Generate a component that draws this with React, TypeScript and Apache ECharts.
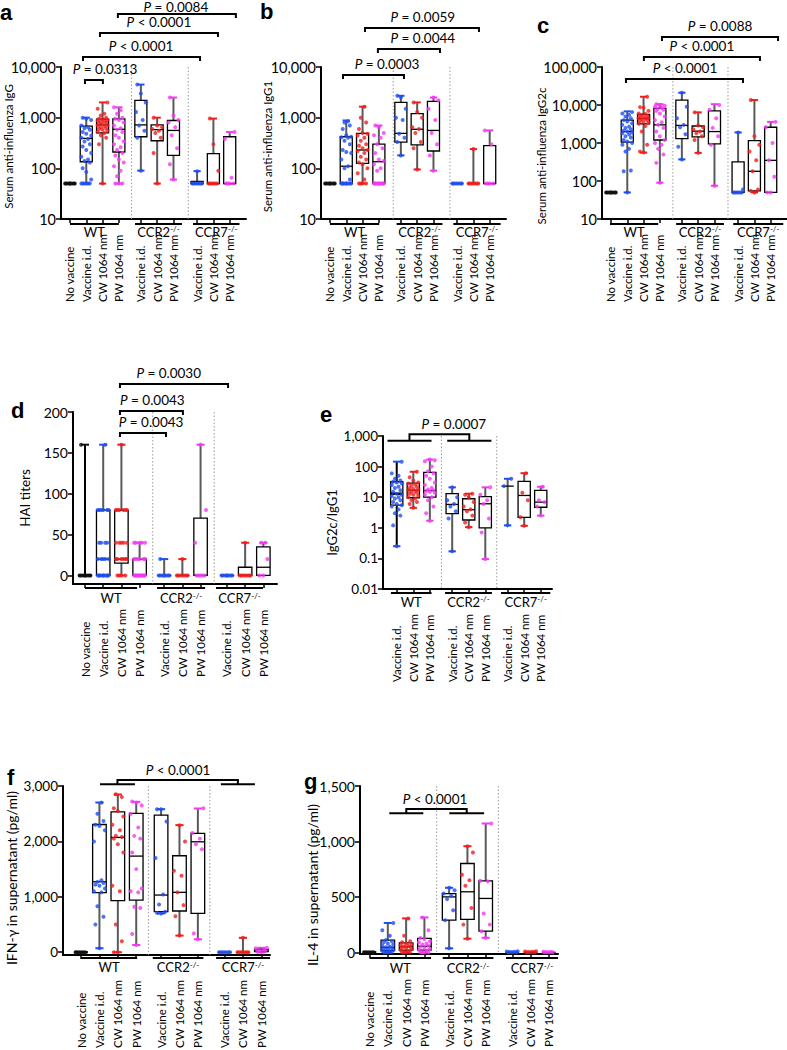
import React, { useEffect, useRef } from "react";
import * as echarts from "echarts";

const FONT = "Lato, 'Liberation Sans', Arial, sans-serif";
const BLACK = "#111111";
const BLUE = "#1f4ff0";
const RED = "#f21d1d";
const MAGENTA = "#f23af2";
const WHISKER = "#5a5a5a";

// ---------- categories ----------
const CATEGORIES_ALL = ["No vaccine", "Vaccine i.d.", "CW 1064 nm", "PW 1064 nm", "Vaccine i.d.", "CW 1064 nm", "PW 1064 nm", "Vaccine i.d.", "CW 1064 nm", "PW 1064 nm"];
const CATEGORIES_RATIO = ["Vaccine i.d.", "CW 1064 nm", "PW 1064 nm", "Vaccine i.d.", "CW 1064 nm", "PW 1064 nm", "Vaccine i.d.", "CW 1064 nm", "PW 1064 nm"];
const GROUP_NAMES = ["WT", "CCR2", "CCR7"];
const COLORS_ALL = [BLACK, BLUE, RED, MAGENTA, BLUE, RED, MAGENTA, BLUE, RED, MAGENTA];
const COLORS_RATIO = [BLUE, RED, MAGENTA, BLUE, RED, MAGENTA, BLUE, RED, MAGENTA];

// ---------- a: IgG (box = min, q1, median, q3, max) ----------
const IGG_BOX = [
  [50, 50, 50, 50, 50], [50, 135, 390, 680, 1000], [50, 500, 720, 940, 2000], [50, 210, 590, 950, 1600],
  [90, 420, 720, 2200, 4500], [50, 350, 580, 720, 1000], [60, 180, 560, 880, 2500],
  [50, 50, 50, 55, 88], [50, 50, 50, 195, 960], [50, 50, 50, 420, 520],
];
const IGG_DOTS = [
  [50, 50, 50, 50, 50, 50, 50, 50],
  [50, 50, 50, 50, 50, 50, 60, 85, 100, 130, 140, 150, 170, 200, 230, 270, 300, 340, 380, 400, 440, 480, 520, 580, 620, 650, 700, 900, 950, 1000],
  [50, 300, 400, 450, 500, 520, 550, 580, 600, 620, 650, 680, 700, 720, 750, 780, 800, 820, 850, 880, 900, 920, 950, 1000, 1100, 1200, 1500, 2000],
  [50, 50, 50, 70, 90, 110, 130, 150, 180, 200, 230, 260, 300, 340, 400, 450, 520, 580, 620, 700, 800, 900, 950, 1000, 1200, 1400, 1600],
  [90, 400, 550, 700, 900, 1300, 2000, 3000, 4500],
  [50, 200, 400, 500, 550, 600, 650, 700, 1000],
  [60, 120, 250, 450, 650, 800, 900, 1100, 2500],
  [50, 50, 50, 50, 50, 50, 50, 88],
  [50, 50, 50, 50, 50, 50, 90, 300, 960],
  [50, 50, 50, 50, 65, 380, 520],
];
const IGG_P = ["P = 0.0313", "P < 0.0001", "P < 0.0001", "P = 0.0084"];

// ---------- b: IgG1 ----------
const IGG1_BOX = [
  [50, 50, 50, 50, 50], [50, 50, 110, 420, 880], [50, 125, 230, 490, 1650], [50, 50, 135, 300, 700],
  [180, 330, 490, 2000, 2700], [95, 290, 590, 1200, 2000], [90, 220, 560, 2100, 2500],
  [50, 50, 50, 50, 50], [50, 50, 50, 50, 240], [50, 50, 50, 280, 560],
];
const IGG1_DOTS = [
  [50, 50, 50, 50, 50, 50, 50, 50],
  [50, 50, 50, 50, 50, 50, 50, 50, 50, 60, 100, 110, 150, 200, 210, 230, 300, 350, 400, 410, 420, 450, 600, 700, 800, 850],
  [50, 50, 50, 50, 60, 80, 100, 120, 130, 150, 170, 200, 220, 230, 250, 280, 300, 350, 400, 450, 480, 500, 600, 800, 1000, 1650],
  [50, 50, 50, 50, 50, 50, 50, 50, 50, 50, 90, 100, 120, 140, 150, 200, 250, 300, 400, 450, 500, 650, 700],
  [180, 330, 400, 480, 900, 1000, 1500, 2500, 2700],
  [95, 250, 330, 500, 600, 650, 1000, 1300, 2000],
  [90, 180, 300, 500, 900, 1500, 2200, 2500],
  [50, 50, 50, 50, 50, 50, 50],
  [50, 50, 50, 50, 50, 50, 50, 240],
  [50, 50, 50, 50, 300, 560],
];
const IGG1_P = ["P = 0.0003", "P = 0.0044", "P = 0.0059"];

// ---------- c: IgG2c ----------
const IGG2C_BOX = [
  [50, 50, 50, 50, 50], [50, 1050, 2000, 4000, 6800], [560, 3200, 4400, 5700, 16500], [90, 1200, 3000, 8200, 10500],
  [370, 1300, 2900, 13500, 21000], [550, 1450, 2050, 2800, 6400], [75, 950, 2000, 7000, 10500],
  [50, 50, 50, 320, 1900], [50, 55, 180, 1150, 13500], [50, 50, 350, 2600, 3600],
];
const IGG2C_DOTS = [
  [50, 50, 50, 50, 50, 50, 50, 50],
  [50, 180, 190, 600, 700, 900, 1000, 1100, 1200, 1400, 1500, 1700, 1800, 1900, 2000, 2100, 2300, 2500, 2700, 3000, 3300, 3700, 4000, 4500, 5000, 5500, 6000, 6500],
  [560, 600, 900, 2000, 2800, 3200, 3400, 3600, 3800, 4000, 4200, 4400, 4500, 4600, 4800, 5000, 5200, 5500, 5800, 6000, 7000, 8500, 8800, 16500],
  [90, 300, 500, 700, 900, 1000, 1200, 1500, 2000, 2500, 3000, 3500, 4000, 5000, 6000, 7000, 7500, 8000, 8500, 9000, 9500, 10000, 10500],
  [370, 800, 1700, 2600, 3000, 4500, 9000, 21000],
  [550, 1200, 1500, 1800, 2000, 2300, 2600, 2900, 6400],
  [75, 900, 1500, 2500, 4500, 7500, 10000],
  [50, 50, 50, 50, 50, 50, 60, 1900],
  [50, 55, 60, 180, 350, 600, 900, 1500, 13500],
  [50, 50, 130, 350, 1000, 2600, 3600],
];
const IGG2C_P = ["P < 0.0001", "P < 0.0001", "P = 0.0088"];

// ---------- d: HAI titers ----------
const HAI_BOX = [
  [0, 0, 0, 0, 160], [0, 0, 20, 80, 160], [0, 15, 20, 80, 160], [0, 0, 0, 20, 40],
  [0, 0, 0, 0, 20], [0, 0, 0, 0, 20], [0, 0, 0, 70, 160],
  [0, 0, 0, 0, 0], [0, 0, 0, 10, 40], [0, 0, 10, 35, 40],
];
const HAI_DOTS = [
  [0, 0, 0, 0, 0, 0, 0, 0, 160],
  [0, 0, 0, 0, 0, 0, 0, 0, 0, 0, 20, 20, 20, 20, 20, 40, 40, 40, 40, 80, 80, 80, 80, 80, 80, 160],
  [0, 0, 0, 0, 20, 20, 20, 20, 20, 20, 40, 40, 40, 40, 40, 80, 80, 80, 80, 80, 80, 160],
  [0, 0, 0, 0, 0, 0, 0, 0, 0, 0, 0, 0, 20, 20, 20, 20, 20, 20, 40, 40, 40, 40, 40],
  [0, 0, 0, 0, 0, 0, 0, 0, 20],
  [0, 0, 0, 0, 0, 0, 0, 20],
  [0, 0, 0, 0, 0, 40, 80, 160],
  [0, 0, 0, 0, 0, 0, 0, 0],
  [0, 0, 0, 0, 0, 0, 0, 40],
  [0, 0, 20, 40, 40],
];
const HAI_P = ["P = 0.0043", "P = 0.0043", "P = 0.0030"];

// ---------- e: IgG2c / IgG1 ----------
const RATIO_BOX = [
  [0.25, 5.5, 13, 32, 145], [4.5, 9.6, 17, 29, 68], [1.7, 10, 16.5, 65, 170],
  [0.17, 2.9, 5.8, 13, 21], [1.05, 1.8, 3.9, 8.9, 13], [0.095, 1.0, 6.1, 10.5, 21],
  [1.2, 23, 23, 23, 40], [1.16, 2.2, 11.4, 33, 61], [2.5, 4.7, 6.9, 16.6, 22],
];
const RATIO_DOTS = [
  [0.25, 1.2, 2.5, 3, 4, 5, 5.5, 6, 7, 8, 9, 10, 11, 12, 13, 15, 17, 20, 22, 25, 28, 30, 32, 35, 40, 50, 60, 145],
  [4.5, 6, 7, 8, 9, 10, 11, 12, 13, 14, 15, 16, 17, 18, 19, 20, 22, 24, 26, 28, 30, 35, 45, 68],
  [1.7, 3, 5, 8, 10, 12, 14, 15, 16, 17, 18, 20, 25, 30, 40, 50, 60, 70, 100, 150, 160, 170],
  [0.17, 2, 3.5, 5, 6, 8, 10, 21],
  [1.05, 1.5, 2.5, 3.5, 4, 5, 7, 10, 12, 13],
  [0.095, 0.7, 2, 6, 8, 12, 21],
  [1.2, 23, 40],
  [1.16, 2.2, 8, 14, 61],
  [2.5, 5, 6.9, 8, 22],
];
const RATIO_P = "P = 0.0007";

// ---------- f: IFN-gamma ----------
const IFNG_BOX = [
  [0, 0, 0, 0, 0], [72, 1074, 1272, 2305, 2702], [0, 930, 2072, 2533, 2847], [131, 942, 1735, 2505, 2714],
  [700, 732, 1032, 2474, 2582], [300, 744, 1081, 1741, 2294], [234, 703, 1993, 2144, 2594],
  [0, 0, 0, 0, 0], [0, 0, 0, 0, 260], [0, 10, 20, 50, 80],
];
const IFNG_DOTS = [
  [0, 0, 0, 0, 0, 0],
  [72, 500, 640, 830, 1080, 1100, 1150, 1200, 1220, 1250, 1270, 1300, 2000, 2200, 2280, 2300, 2370, 2500, 2700],
  [0, 0, 200, 500, 1100, 1200, 1800, 1950, 2050, 2080, 2100, 2200, 2300, 2450, 2550, 2600, 2800, 2850],
  [131, 330, 800, 820, 1080, 1100, 1150, 1500, 1800, 2050, 2100, 2250, 2500, 2650, 2700, 2720],
  [700, 710, 730, 860, 1040, 1700, 2360, 2580, 2580],
  [300, 650, 850, 1080, 1380, 1470, 2000, 2290],
  [234, 340, 1860, 1950, 2050, 2150, 2600],
  [0, 0, 0, 0, 0, 0, 0],
  [0, 0, 0, 0, 0, 0, 0, 260],
  [0, 10, 20, 30, 50, 70, 80],
];
const IFNG_P = "P < 0.0001";

// ---------- g: IL-4 ----------
const IL4_BOX = [
  [0, 0, 0, 0, 0], [0, 15, 45, 110, 265], [0, 20, 50, 86, 306], [0, 20, 55, 126, 315],
  [36, 290, 500, 530, 582], [123, 297, 546, 801, 957], [131, 192, 486, 645, 1162],
  [0, 0, 0, 0, 0], [0, 0, 0, 0, 0], [0, 0, 0, 0, 0],
];
const IL4_DOTS = [
  [0, 0, 0, 0, 0, 0],
  [0, 0, 0, 0, 10, 15, 20, 25, 30, 40, 45, 50, 60, 70, 80, 90, 100, 110, 150, 200, 265],
  [0, 0, 0, 0, 10, 20, 30, 40, 45, 50, 55, 60, 65, 70, 80, 90, 100, 150, 306],
  [0, 0, 0, 0, 10, 20, 30, 40, 50, 60, 70, 80, 90, 100, 120, 130, 200, 315],
  [36, 290, 380, 480, 510, 530, 560, 582],
  [123, 250, 400, 600, 650, 700, 900, 957],
  [131, 190, 250, 350, 640, 645, 1162],
  [0, 0, 0, 3, 5, 8, 10],
  [0, 0, 0, 3, 5, 8, 10],
  [0, 0, 0, 2, 4, 6],
];
const IL4_P = "P < 0.0001";

// ---------- layout (positions in axis units, offsets in px) ----------
const POS_ALL = [0, 1, 2, 3, 4.35, 5.35, 6.35, 7.8, 8.8, 9.8];
const POS_RATIO = [0, 1, 2, 3.35, 4.35, 5.35, 6.7, 7.7, 8.7];
const JITTER = [0, -0.22, 0.22, -0.11, 0.11, -0.3, 0.3];
const CAT_FONT = 11.5;

type Bracket = { x1: number; x2: number; dy: number; tx: number };
type Tree = { a: number[]; b: number[]; barDy: number; connDy: number; tx: number; text: string };
interface Panel {
  letter: string; letterPos: number[];
  grid: { left: number; top: number; width: number; height: number };
  xRange: number[]; log: boolean; yRange: number[]; yTicks?: number[];
  yName: string; nameGap: number; namePad: number; nameSize: number; yLabelSize: number;
  cats: string[]; pos: number[]; colors: string[]; box: number[][]; dots: number[][];
  seps: number[]; groups: number[][]; ulDy: number; glDy: number; labMargin: number;
  brackets: Bracket[]; pTexts: string[]; tree?: Tree;
}

const PANELS: Panel[] = [
  {
    letter: "a", letterPos: [0, 1], grid: { left: 61, top: 67, width: 185, height: 152 },
    xRange: [-0.55, 10.8], log: true, yRange: [10, 10000],
    yName: "Serum anti-influenza IgG", nameGap: 47, namePad: 7, nameSize: 11.5, yLabelSize: 14.5,
    cats: CATEGORIES_ALL, pos: POS_ALL, colors: COLORS_ALL, box: IGG_BOX, dots: IGG_DOTS,
    seps: [3.78, 7.26], groups: [[0, 3], [3.99, 6.87], [7.55, 10.4]], ulDy: 5, glDy: 12.5, labMargin: 83,
    brackets: [
      { x1: 0.92, x2: 2.02, dy: -13, tx: 2.15 }, { x1: 0.8, x2: 7.98, dy: 10, tx: 4.36 },
      { x1: 1.84, x2: 9.08, dy: 34, tx: 5.46 }, { x1: 2.94, x2: 10.18, dy: 53, tx: 6.5 },
    ], pTexts: IGG_P,
  },
  {
    letter: "b", letterPos: [260, 0], grid: { left: 321, top: 67, width: 185, height: 152 },
    xRange: [-0.55, 10.8], log: true, yRange: [10, 10000],
    yName: "Serum anti-influenza IgG1", nameGap: 48, namePad: 7, nameSize: 11.5, yLabelSize: 14.5,
    cats: CATEGORIES_ALL, pos: POS_ALL, colors: COLORS_ALL, box: IGG1_BOX, dots: IGG1_DOTS,
    seps: [3.88, 7.36], groups: [[0, 3.02], [4.09, 6.9], [7.57, 10.47]], ulDy: 5, glDy: 12.5, labMargin: 83,
    brackets: [
      { x1: 0.8, x2: 4.54, dy: -8, tx: 3.5 }, { x1: 2.94, x2: 6.75, dy: 18, tx: 5.7 },
      { x1: 2.15, x2: 9.14, dy: 39, tx: 5.7 },
    ], pTexts: IGG1_P,
  },
  {
    letter: "c", letterPos: [537, 14], grid: { left: 602, top: 67, width: 185, height: 152 },
    xRange: [-0.55, 10.8], log: true, yRange: [10, 100000],
    yName: "Serum anti-influenza IgG2c", nameGap: 55, namePad: 26, nameSize: 11.5, yLabelSize: 14.5,
    cats: CATEGORIES_ALL, pos: POS_ALL, colors: COLORS_ALL, box: IGG2C_BOX, dots: IGG2C_DOTS,
    seps: [3.8, 7.18], groups: [[-0.06, 2.9], [4.0, 6.93], [7.5, 10.57]], ulDy: 5, glDy: 12.5, labMargin: 83,
    brackets: [
      { x1: 0.92, x2: 8.1, dy: -12, tx: 4.54 }, { x1: 2.02, x2: 9.14, dy: 10, tx: 5.58 },
      { x1: 3.13, x2: 10.25, dy: 30, tx: 6.69 },
    ], pTexts: IGG2C_P,
  },
  {
    letter: "d", letterPos: [11, 399], grid: { left: 73, top: 412, width: 204, height: 172 },
    xRange: [-0.66, 10.55], log: false, yRange: [-10.5, 200], yTicks: [0, 50, 100, 150, 200],
    yName: "HAI titers", nameGap: 41, namePad: 0, nameSize: 13.5, yLabelSize: 14,
    cats: CATEGORIES_ALL, pos: POS_ALL, colors: COLORS_ALL, box: HAI_BOX, dots: HAI_DOTS,
    seps: [3.72, 7.1], groups: [[0, 2.86], [3.96, 6.6], [7.2, 9.78]], ulDy: 4, glDy: 14, labMargin: 93,
    brackets: [
      { x1: 1.92, x2: 4.45, dy: -21, tx: 3.63 }, { x1: 1.92, x2: 5.38, dy: 1, tx: 3.7 },
      { x1: 1.92, x2: 7.86, dy: 28, tx: 4.6 },
    ], pTexts: HAI_P,
  },
  {
    letter: "e", letterPos: [320, 403], grid: { left: 383, top: 436, width: 169, height: 153 },
    xRange: [-0.83, 9.38], log: true, yRange: [0.01, 1000],
    yName: "IgG2c/IgG1", nameGap: 45, namePad: 20, nameSize: 13, yLabelSize: 13.5,
    cats: CATEGORIES_RATIO, pos: POS_RATIO, colors: COLORS_RATIO, box: RATIO_BOX, dots: RATIO_DOTS,
    seps: [2.7, 6.04], groups: [[-0.35, 2.1], [2.92, 5.75], [6.3, 9.28]], ulDy: 4, glDy: 12.7, labMargin: 93,
    brackets: [], pTexts: [],
    tree: { a: [-0.56, 2.1], b: [3.05, 5.72], barDy: -4.7, connDy: 1.7, tx: 3.45, text: RATIO_P },
  },
  {
    letter: "f", letterPos: [7, 766], grid: { left: 63, top: 786, width: 207, height: 169 },
    xRange: [-0.98, 10.27], log: false, yRange: [-50, 3000], yTicks: [0, 1000, 2000, 3000],
    yName: "IFN-\u03b3 in supernatant (pg/ml)", nameGap: 44.5, namePad: 15, nameSize: 14, yLabelSize: 13.5,
    cats: CATEGORIES_ALL, pos: POS_ALL, colors: COLORS_ALL, box: IFNG_BOX, dots: IFNG_DOTS,
    seps: [3.66, 7.0], groups: [[0, 3.05], [3.9, 6.65], [7.34, 10.27]], ulDy: 3, glDy: 12, labMargin: 93,
    brackets: [], pTexts: [],
    tree: { a: [1.03, 2.93], b: [7.6, 9.45], barDy: 1.7, connDy: 6, tx: 5.27, text: IFNG_P },
  },
  {
    letter: "g", letterPos: [304, 770], grid: { left: 360, top: 786, width: 198, height: 168 },
    xRange: [-0.52, 10.3], log: false, yRange: [-15, 1500], yTicks: [0, 500, 1000, 1500],
    yName: "IL-4 in supernatant (pg/ml)", nameGap: 41, namePad: 30, nameSize: 14, yLabelSize: 14,
    cats: CATEGORIES_ALL, pos: POS_ALL, colors: COLORS_ALL, box: IL4_BOX, dots: IL4_DOTS,
    seps: [3.67, 7.04], groups: [[0, 3.36], [4.0, 6.77], [7.46, 10.3]], ulDy: 4, glDy: 14, labMargin: 93,
    brackets: [], pTexts: [],
    tree: { a: [1.08, 2.94], b: [4.36, 6.26], barDy: -27.3, connDy: -23, tx: 3.58, text: IL4_P },
  },
];

function fmt(v: number): string {
  return Number(v).toLocaleString("en-US", { maximumFractionDigits: 3 });
}

function line(x1: number, y1: number, x2: number, y2: number, stroke: string, w: number) {
  return { type: "line", shape: { x1, y1, x2, y2 }, style: { stroke, lineWidth: w } };
}

function pText(s: string, x: number, y: number) {
  return {
    type: "text",
    style: {
      text: `{i|${s.slice(0, 1)}}{t|${s.slice(1)}}`,
      rich: {
        i: { fontStyle: "italic", fontSize: 13.5, fontFamily: FONT, fill: "#000" },
        t: { fontSize: 13.5, fontFamily: FONT, fill: "#000" },
      },
      x, y, align: "center", verticalAlign: "middle",
    },
  };
}

function boxRender(p: Panel) {
  return (params: any, api: any) => {
    const i = params.dataIndex;
    const x = api.value(0);
    const mn = api.value(1), q1 = api.value(2), md = api.value(3), q3 = api.value(4), mx = api.value(5);
    const c = (v: number) => api.coord([x, v]);
    const cx = c(md)[0];
    const hw = api.coord([x + 0.37, md])[0] - cx;
    const cw = hw * 0.6;
    const yMin = c(mn)[1], yQ1 = c(q1)[1], yMd = c(md)[1], yQ3 = c(q3)[1], yMax = c(mx)[1];
    const col = p.colors[i];
    const kids: any[] = [];
    if (yQ3 - yMax > 0.5) kids.push(line(cx, yMax, cx, yQ3, i === 0 ? "#000" : WHISKER, 2));
    if (yMin - yQ1 > 0.5) kids.push(line(cx, yQ1, cx, yMin, i === 0 ? "#000" : WHISKER, 2));
    if (mx > q3) kids.push(line(cx - cw, yMax, cx + cw, yMax, col, 2));
    if (mn < q1) kids.push(line(cx - cw, yMin, cx + cw, yMin, col, 2));
    if (yQ1 - yQ3 > 0.5) {
      kids.push({ type: "rect", shape: { x: cx - hw, y: yQ3, width: 2 * hw, height: yQ1 - yQ3 }, style: { fill: "none", stroke: "#000", lineWidth: 1.3 } });
    }
    kids.push(line(cx - hw, yMd, cx + hw, yMd, "#000", i === 0 ? 2.5 : 1.3));
    return { type: "group", children: kids };
  };
}

function annotRender(p: Panel) {
  return (params: any, api: any) => {
    const yT = p.yRange[1], yB = p.yRange[0];
    const X = (u: number) => api.coord([u, yT])[0];
    const top = api.coord([p.xRange[0], yT])[1];
    const bottom = api.coord([p.xRange[0], yB])[1];
    const kids: any[] = [];
    p.seps.forEach((s) => {
      kids.push({ type: "line", shape: { x1: X(s), y1: top, x2: X(s), y2: bottom }, style: { stroke: "#9c9c9c", lineWidth: 1, lineDash: [1.5, 2] } });
    });
    p.groups.forEach((g, i) => {
      const y = bottom + p.ulDy;
      kids.push(line(X(g[0]), y, X(g[1]), y, "#000", 2));
      kids.push({
        type: "text",
        style: {
          text: i === 0 ? `{n|${GROUP_NAMES[i]}}` : `{n|${GROUP_NAMES[i]}}{s|-/-}`,
          rich: {
            n: { fontSize: 13, fontFamily: FONT, fill: "#000" },
            s: { fontSize: 8, fontFamily: FONT, fill: "#000", verticalAlign: "top" },
          },
          x: (X(g[0]) + X(g[1])) / 2, y: bottom + p.glDy, align: "center", verticalAlign: "middle",
        },
      });
    });
    p.brackets.forEach((b, i) => {
      const y = top - b.dy;
      kids.push({
        type: "polyline",
        shape: { points: [[X(b.x1), y + 4], [X(b.x1), y], [X(b.x2), y], [X(b.x2), y + 4]] },
        style: { stroke: "#000", lineWidth: 2, fill: "none" },
      });
      kids.push(pText(p.pTexts[i], X(b.tx), Math.max(y - 11, 7)));
    });
    if (p.tree) {
      const t = p.tree;
      const yb = top - t.barDy, yc = top - t.connDy;
      kids.push(line(X(t.a[0]), yb, X(t.a[1]), yb, "#000", 2));
      kids.push(line(X(t.b[0]), yb, X(t.b[1]), yb, "#000", 2));
      const ca = X((t.a[0] + t.a[1]) / 2), cb = X((t.b[0] + t.b[1]) / 2);
      kids.push({ type: "polyline", shape: { points: [[ca, yb], [ca, yc], [cb, yc], [cb, yb]] }, style: { stroke: "#000", lineWidth: 2, fill: "none" } });
      kids.push(pText(t.text, X(t.tx), yc - 10));
    }
    return { type: "group", children: kids };
  };
}

function buildOption() {
  const grid: any[] = [], xAxis: any[] = [], yAxis: any[] = [], series: any[] = [], title: any[] = [];
  PANELS.forEach((p, k) => {
    grid.push({ ...p.grid, containLabel: false, outerBoundsMode: "none" });
    title.push({
      text: p.letter, left: p.letterPos[0], top: p.letterPos[1], padding: 0,
      textStyle: { fontSize: 22, fontWeight: "bold", fontFamily: "'Liberation Sans', Arial, sans-serif", color: "#000" },
    });
    xAxis.push({
      gridIndex: k, type: "value", min: p.xRange[0], max: p.xRange[1],
      axisLine: { show: true, onZero: false, lineStyle: { color: "#000", width: 2 } },
      axisTick: { show: true, customValues: p.pos, length: 4, lineStyle: { color: "#000", width: 1.5 } },
      axisLabel: {
        customValues: p.pos, rotate: 90, align: "left", verticalAlign: "middle", margin: p.labMargin,
        fontSize: CAT_FONT, fontFamily: FONT, color: "#000",
        formatter: (v: number) => {
          const i = p.pos.findIndex((q) => Math.abs(q - v) < 1e-6);
          return i >= 0 ? p.cats[i] : "";
        },
      },
      splitLine: { show: false },
    });
    const yLabel: any = { fontSize: p.yLabelSize, fontFamily: FONT, color: "#000", margin: 5, formatter: (v: number) => fmt(v) };
    const yTick: any = { show: true, length: 5, lineStyle: { color: "#000", width: 1.5 } };
    if (p.yTicks) { yLabel.customValues = p.yTicks; yTick.customValues = p.yTicks; }
    yAxis.push({
      gridIndex: k, type: p.log ? "log" : "value", logBase: 10, min: p.yRange[0], max: p.yRange[1],
      name: p.yName, nameLocation: "middle", nameGap: p.nameGap, nameRotate: 90, nameMoveOverlap: false,
      nameTextStyle: { fontSize: p.nameSize, fontFamily: FONT, color: "#000", padding: [0, p.namePad, 0, 0] },
      axisLine: { show: true, onZero: false, lineStyle: { color: "#000", width: 2 } },
      axisTick: yTick, axisLabel: yLabel,
      splitLine: { show: false }, minorTick: { show: false },
    });
    series.push({
      type: "custom", xAxisIndex: k, yAxisIndex: k, z: 1, silent: true, clip: false,
      renderItem: annotRender(p), data: [[p.xRange[0], p.yRange[1]]], encode: { x: 0, y: 1 },
    });
    series.push({
      type: "custom", xAxisIndex: k, yAxisIndex: k, z: 2, silent: true, clip: false,
      renderItem: boxRender(p), data: p.box.map((b, i) => [p.pos[i], ...b]),
      encode: { x: 0, y: [1, 2, 3, 4, 5] },
    });
    const pts: any[] = [];
    p.dots.forEach((arr, i) => {
      arr.forEach((v, j) => {
        pts.push({ value: [p.pos[i] + JITTER[j % JITTER.length], v], itemStyle: { color: p.colors[i] } });
      });
    });
    series.push({
      type: "scatter", xAxisIndex: k, yAxisIndex: k, z: 3, silent: true, symbol: "circle", symbolSize: 4,
      data: pts,
    });
  });
  return { animation: false, backgroundColor: "#fff", textStyle: { fontFamily: FONT }, title, grid, xAxis, yAxis, series };
}

export default function App() {
  const ref = useRef<HTMLDivElement>(null);
  useEffect(() => {
    const chart = echarts.init(ref.current as HTMLDivElement, null, { renderer: "svg" });
    chart.setOption(buildOption() as any);
    return () => chart.dispose();
  }, []);
  return <div ref={ref} style={{ position: "fixed", left: 0, top: 0, width: 787, height: 1050, background: "#fff" }} />;
}
